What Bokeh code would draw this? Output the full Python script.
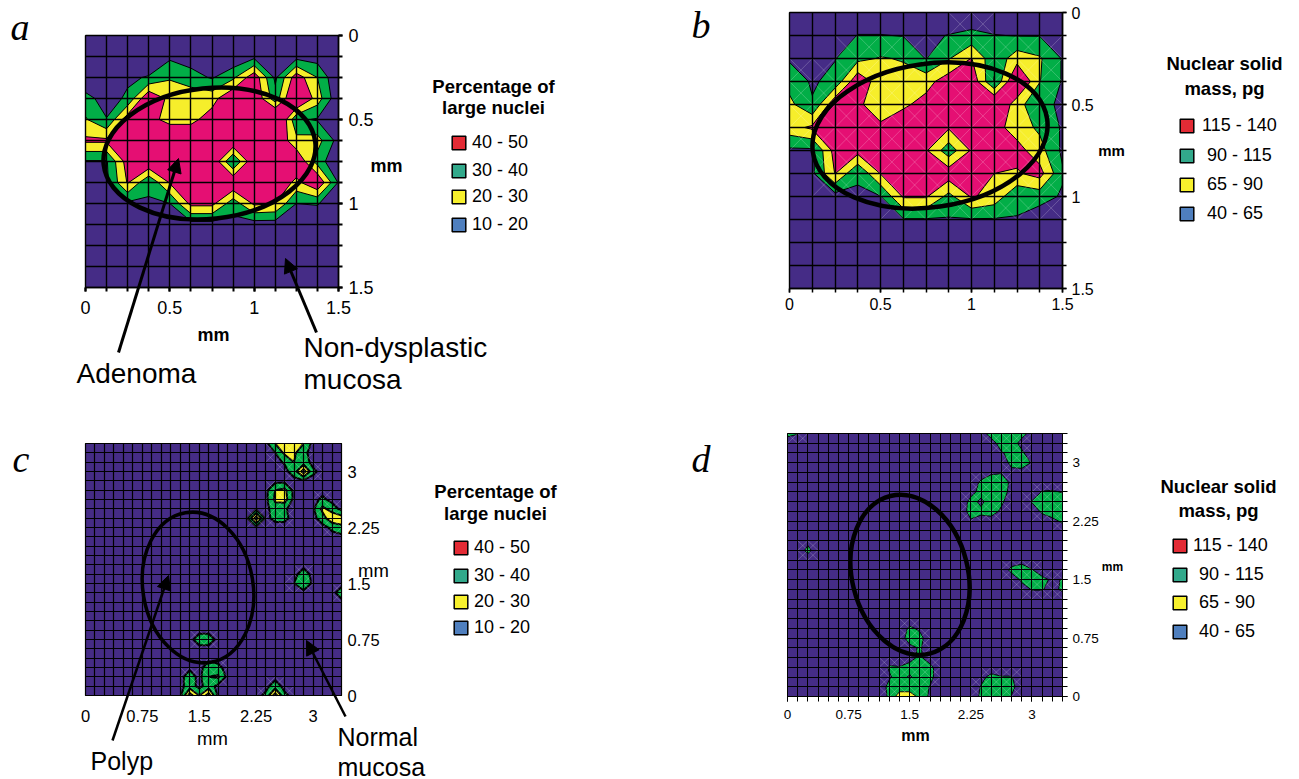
import numpy as np
from bokeh.plotting import figure
from bokeh.layouts import column, row
from bokeh.models import (Range1d, FixedTicker, Label, Arrow, NormalHead, Legend, LegendItem)
from bokeh.embed import file_html
from bokeh.resources import INLINE

# ---- data ----
PURPLE, GREEN, YELLOW, PINK = "#452C86", "#02AE47", "#F6EE2B", "#E50F73"
LEG = ["#E32B35", "#32A98B", "#F7F02D", "#4F7FBE"]
legend_pct = ["40 - 50", "30 - 40", "20 - 30", "10 - 20"]
legend_mass = ["115 - 140", "90 - 115", "65 - 90", "40 - 65"]
levels_pct = [20, 30, 40, 70]
levels_mass = [65, 90, 115, 170]

grid_a = [
 [10]*13,
 [10,10,10,10,18,15,15,11,17,10,16,15,10],
 [10,10,18,21,29,24,19,28,47,18,46,30,10],
 [24,15,22,50,37,37,36,50,50,24,56,35,12],
 [31,20.5,46,43,37,37,45,50,50,60,22,19,10],
 [42,42,50,50,50,50,50,50,50,50,33,34,16],
 [19,19,45,50,50,50,50,19,50,50,50,26,10],
 [10,18,41,21,41,50,50,50,50,50,37,50,19],
 [10,10,18,19.5,20,43,43,24,42,40,20,21,10],
 [10,10,10,10,10,16,16,17,15,15,10,10,10],
 [10]*13, [10]*13, [10]*13,
]
grid_b = [
 [45]*13,
 [45,45,45,66,66,64,60,66,72,66,64,64,60],
 [62,65,64,83,92,88,64,88,116,72,104,93,63],
 [80,62,72,135,100,100,105,130,135,63,150,91,63],
 [97,67,135,120,100,110,125,135,135,150,100,70,62],
 [105,120,135,135,120,135,135,118,135,125,103,85,62],
 [60,60,125,125,135,135,118,75,118,135,125,100,60],
 [45,60,116,66,116,135,135,130,135,115,112,125,68],
 [45,45,55,64,64,118,118,82,118,105,70,75,62],
 [45,45,45,45,45,63,63,63,63,63,64,50,45],
 [45]*13, [45]*13, [45]*13,
]
# (row from top, column, value); all other grid points stay at the base value
hot_c = [
 (0,19,17),(0,20,30),(0,21,35),(0,22,35),(0,23,30),(0,24,17),
 (1,20,20),(1,21,32),(1,22,32),(1,23,22),
 (2,21,21),(2,22,30),(2,23,25),
 (3,22,25),(3,23,45),(3,24,22),(4,23,18),
 (5,20,30),(5,21,33),(6,20,32),(6,21,35),
 (7,20,25),(7,21,21),(8,20,22),(8,21,22),
 (7,18,18),(8,18,45),(9,18,18),(8,17,18),(8,19,18),
 (6,25,22),(7,24,18),(7,25,33),(7,26,25),
 (8,25,25),(8,26,38),(8,27,35),(9,26,22),(9,27,28),
 (14,23,25),(15,23,28),(15,22,20),(15,24,18),
 (16,27,25),
 (21,12,25),(21,13,25),
 (24,11,18),(25,11,25),(26,11,25),(27,11,45),(27,12,30),
 (27,13,45),(26,13,25),(25,13,30),(25,14,32),(24,14,22),(24,13,25),
 (26,20,25),(27,20,45),(27,19,22),(27,21,22),
]
hot_d = [
 (0,0,70),(0,1,66),
 (0,19,60),(0,20,70),(0,21,72),(0,22,72),(0,23,70),(0,24,60),
 (1,20,60),(1,21,70),(1,22,72),(1,23,60),
 (2,21,64),(2,22,68),(2,23,68),
 (3,22,70),(3,23,72),(3,24,64),(4,22,60),(4,23,60),
 (4,20,63),(4,21,64),
 (5,19,68),(5,20,72),(5,21,72),(5,22,62),
 (6,18,60),(6,19,70),(6,20,74),(6,21,72),(6,22,60),
 (7,18,70),(7,19,62),(7,20,72),(7,21,68),
 (8,18,72),(8,19,68),(8,20,72),(8,21,62),
 (9,18,63),(9,19,60),(9,20,58),
 (6,25,66),(6,26,67),(6,27,64),
 (7,24,66),(7,25,74),(7,26,74),(7,27,74),
 (8,25,68),(8,26,74),(8,27,74),(9,26,60),(9,27,68),
 (13,23,60),(14,22,70),(14,23,72),(14,24,66),
 (15,23,68),(15,24,74),(15,25,70),(15,26,62),
 (16,23,58),(16,24,66),(16,25,66),(16,26,60),
 (15,27,66),(16,27,68),
 (12,2,70),(11,2,60),
 (20,12,68),(20,13,62),(21,12,74),(21,13,70),(22,12,60),(22,13,67),
 (23,13,68),(23,12,60),
 (24,10,67),(24,11,66),(24,12,70),(24,13,74),(24,14,70),
 (25,10,63),(25,11,72),(25,12,63),(25,13,74),(25,14,70),
 (26,10,70),(26,11,74),(26,12,74),(26,13,74),(26,14,64),
 (27,10,68),(27,11,105),(27,12,105),(27,13,82),(27,14,60),
 (25,19,60),(25,20,70),(25,21,66),(25,22,66),
 (26,19,66),(26,20,74),(26,21,74),(26,22,70),
 (27,19,68),(27,20,74),(27,21,74),(27,22,64),
]

def dense(base, hot):
    z = np.full((28, 28), float(base))
    for r, c, v in hot:
        z[r, c] = v
    return z

FONT = "Liberation Sans"

class Panel:
    """figure fills page box (ox,oy,w,h); the plot square sits at page box l,r,t,b."""
    def __init__(s, ox, oy, w, h, l, r, t, b, xmax, ymax, flip):
        s.l, s.r, s.t, s.b, s.xmax, s.ymax, s.flip = l, r, t, b, xmax, ymax, flip
        s.ox, s.oyb = ox, oy+h
        ytop, ybot = s.fy(oy), s.fy(oy+h)
        s.p = figure(width=w, height=h, output_backend="svg", toolbar_location=None,
                     x_range=Range1d(s.fx(ox), s.fx(ox+w)),
                     y_range=Range1d(ybot, ytop),
                     min_border=0, y_axis_location="right",
                     outline_line_color=None)
        s.p.quad(left=[0], right=[xmax], bottom=[0], top=[ymax], fill_color=PURPLE,
                 line_color="black", line_width=1, level="underlay")
    def fx(s, px): return (px-s.l)/(s.r-s.l)*s.xmax
    def fy(s, py):
        f = (py-s.t)/(s.b-s.t)*s.ymax
        return f if s.flip else s.ymax-f
    def text(s, px, py, txt, size, bold=False, align="left", font=FONT, italic=False):
        st = "bold" if bold else ("italic" if italic else "normal")
        s.p.add_layout(Label(x=s.fx(px), y=s.fy(py), text=txt, text_font=font,
                             text_font_size=f"{size}px", text_font_style=st, text_color="black",
                             text_align=align, text_baseline="middle"))
    def arrow(s, x0, y0, x1, y1, w=3, head=14):
        s.p.add_layout(Arrow(end=NormalHead(size=head, fill_color="black", line_color="black"),
                             x_start=s.fx(x0), y_start=s.fy(y0), x_end=s.fx(x1), y_end=s.fy(y1),
                             line_color="black", line_width=w, level="overlay"))
    def legend_row(s, swx, cy, txt, color, standoff, size=18, sw=17):
        nan = float("nan")
        r = s.p.quad(left=[nan], right=[nan], top=[nan], bottom=[nan], fill_color=color, line_color="black", line_width=1.5)
        lg = Legend(items=[LegendItem(label=txt, renderers=[r])],
                    location=(swx-2-s.ox, s.oyb-(cy+10)), padding=0, margin=0, border_line_color=None,
                    background_fill_color=None, background_fill_alpha=0, glyph_width=sw, glyph_height=sw,
                    label_height=20, label_standoff=standoff-1, label_text_font=FONT,
                    label_text_font_size=f"{size}px", label_text_color="black")
        s.p.add_layout(lg, "center")
    def ellipse(s, cx_px, cy_px, a, b, deg, w=4):
        s.p.ellipse(x=[s.fx(cx_px)], y=[s.fy(cy_px)], width=[2*a], height=[2*b], angle=[deg],
                    angle_units="deg", width_units="screen", height_units="screen",
                    fill_color=None, line_color="black", line_width=w, level="overlay")
    def diagonals(s, z, x, y, lvl, alpha=0.35):
        xs, ys = [], []
        for j in range(len(y)-1):
            for i in range(len(x)-1):
                if max(z[j,i], z[j,i+1], z[j+1,i], z[j+1,i+1]) >= lvl:
                    xs += [[x[i], x[i+1]], [x[i], x[i+1]]]
                    ys += [[y[j], y[j+1]], [y[j+1], y[j]]]
        s.p.multi_line(xs, ys, line_color="white", line_alpha=alpha, line_width=0.6)

def style(P, z, x, y, levels, line_w, grid_w, major, tick_labels, tick_len, tick_w, lab_size, stand_x, stand_y, axis_w=1):
    p = P.p
    p.contour(x, y, z, levels=levels, fill_color=[GREEN, YELLOW, PINK], line_color="black", line_width=line_w)
    for g, ax in ((p.xgrid, x), (p.ygrid, y)):
        g.ticker = FixedTicker(ticks=list(ax))
        g.grid_line_color = "black"
        g.grid_line_width = grid_w
        g.level = "annotation"
        g.bounds = (0, P.xmax)
        g.cross_bounds = (0, P.xmax)
    p.xaxis.fixed_location = P.ymax if P.flip else 0
    p.yaxis.fixed_location = P.xmax
    for axis, st in ((p.xaxis, stand_x), (p.yaxis, stand_y)):
        axis.bounds = (0, P.xmax)
        axis.ticker = FixedTicker(ticks=list(major), minor_ticks=list(x))
        axis.major_label_overrides = dict(zip([float(m) for m in major], tick_labels))
        axis.major_label_text_font = FONT
        axis.major_label_text_font_size = f"{lab_size}px"
        axis.major_label_text_color = "black"
        axis.major_label_standoff = st
        axis.axis_line_color = "black"
        axis.axis_line_width = axis_w
        axis.major_tick_in = 0; axis.minor_tick_in = 0
        axis.major_tick_out = tick_len; axis.minor_tick_out = tick_len
        axis.major_tick_line_width = tick_w; axis.minor_tick_line_width = tick_w
        axis.major_tick_line_color = "black"; axis.minor_tick_line_color = "black"

x13 = [i*0.125 for i in range(13)]
x28 = [i*0.125 for i in range(28)]
major13 = [0, 0.5, 1, 1.5]
major28 = [0, 0.75, 1.5, 2.25, 3]
lab13 = ["0", "0.5", "1", "1.5"]
lab28 = ["0", "0.75", "1.5", "2.25", "3"]

split_x, split_y = 650, 420
W, H = 1299, 779

# --- a ---
A = Panel(0, 0, split_x, split_y, 85, 338, 35, 287, 1.5, 1.5, True)
za = np.array(grid_a, float)
style(A, za, x13, x13, levels_pct, 1, 1.4, major13, lab13, 4, 2, 18, 9, 6, axis_w=1.5)
A.ellipse(209, 153, 106.4, 65.4, 6, 4.5)
A.text(10, 26, "a", 38, font="Liberation Serif", italic=True)
A.text(386, 165, "mm", 18, bold=True, align="center")
A.text(213, 334, "mm", 18, bold=True, align="center")
A.text(493, 86, "Percentage of", 18.5, bold=True, align="center")
A.text(493, 107, "large nuclei", 18.5, bold=True, align="center")
for cy, t, c in zip([143, 171, 197, 225], legend_pct, LEG):
    A.legend_row(452, cy, t, c, 6)
A.arrow(118, 352, 178, 158)
A.arrow(316, 332, 285, 258)
A.text(76, 373, "Adenoma", 28)
A.text(303, 347, "Non-dysplastic", 28)
A.text(303, 379, "mucosa", 28)

# --- b ---
B = Panel(split_x, 0, W-split_x, split_y, 789, 1062, 12, 288, 1.5, 1.5, True)
zb = np.array(grid_b, float)
style(B, zb, x13, x13, levels_mass, 1, 1.4, major13, lab13, 4, 1.5, 16, 5, 5, axis_w=1.5)
B.diagonals(zb, x13, x13, 70)
B.ellipse(929.5, 135, 118.3, 71.8, 8, 4.5)
B.text(691, 24, "b", 38, font="Liberation Serif", italic=True)
B.text(1111, 150, "mm", 15, bold=True, align="center")
B.text(1224, 63, "Nuclear solid", 18.5, bold=True, align="center")
B.text(1224, 88, "mass, pg", 18.5, bold=True, align="center")
for cy, t, c, st in zip([126, 156, 185, 214], legend_mass, LEG, [8, 13, 13, 13]):
    B.legend_row(1180, cy, t, c, st)

# --- c ---
C = Panel(0, split_y, split_x, H-split_y, 85, 341, 443, 695, 3.375, 3.375, False)
zc = dense(17, hot_c)[::-1]
style(C, zc, x28, x28, levels_pct, 2, 1.2, major28, lab28, 0, 0, 16.5, 14, 6)
C.diagonals(zc, x28, x28, 20)
C.ellipse(197.5, 587, 75.8, 55.1, 99.5, 3.5)
C.text(12, 458, "c", 38, font="Liberation Serif", italic=True)
C.text(373, 570, "mm", 18.5, align="center")
C.text(212, 738, "mm", 18.5, align="center")
C.text(495, 491, "Percentage of", 18.5, bold=True, align="center")
C.text(495, 513, "large nuclei", 18.5, bold=True, align="center")
for cy, t, c in zip([548, 576, 602, 628], legend_pct, LEG):
    C.legend_row(454, cy, t, c, 6)
C.arrow(112, 740, 168, 575, w=2.5)
C.arrow(345, 716, 306, 640, w=2.5)
C.text(90, 760, "Polyp", 25)
C.text(337, 736, "Normal", 25)
C.text(337, 766, "mucosa", 25)

# --- d ---
D = Panel(split_x, split_y, W-split_x, H-split_y, 787, 1062, 433, 696, 3.375, 3.375, False)
zd = dense(55, hot_d)[::-1]
style(D, zd, x28, x28, levels_mass, 0.9, 1, major28, lab28, 5, 1, 13.5, 8, 5)
D.diagonals(zd, x28, x28, 65)
D.ellipse(909.5, 574.3, 81.2, 57.9, 104, 4.5)
D.text(691, 458, "d", 38, font="Liberation Serif", italic=True)
D.text(1112, 566, "mm", 12, bold=True, align="center")
D.text(915, 735, "mm", 16, bold=True, align="center")
D.text(1218, 486, "Nuclear solid", 18.5, bold=True, align="center")
D.text(1218, 510, "mass, pg", 18.5, bold=True, align="center")
for cy, t, c, st in zip([546, 575, 603, 632], legend_mass, LEG, [6, 12, 12, 12]):
    D.legend_row(1173, cy, t, c, st)

page = column(row(A.p, B.p, spacing=0), row(C.p, D.p, spacing=0), spacing=0)
open("out.html", "w").write(file_html(page, INLINE))
